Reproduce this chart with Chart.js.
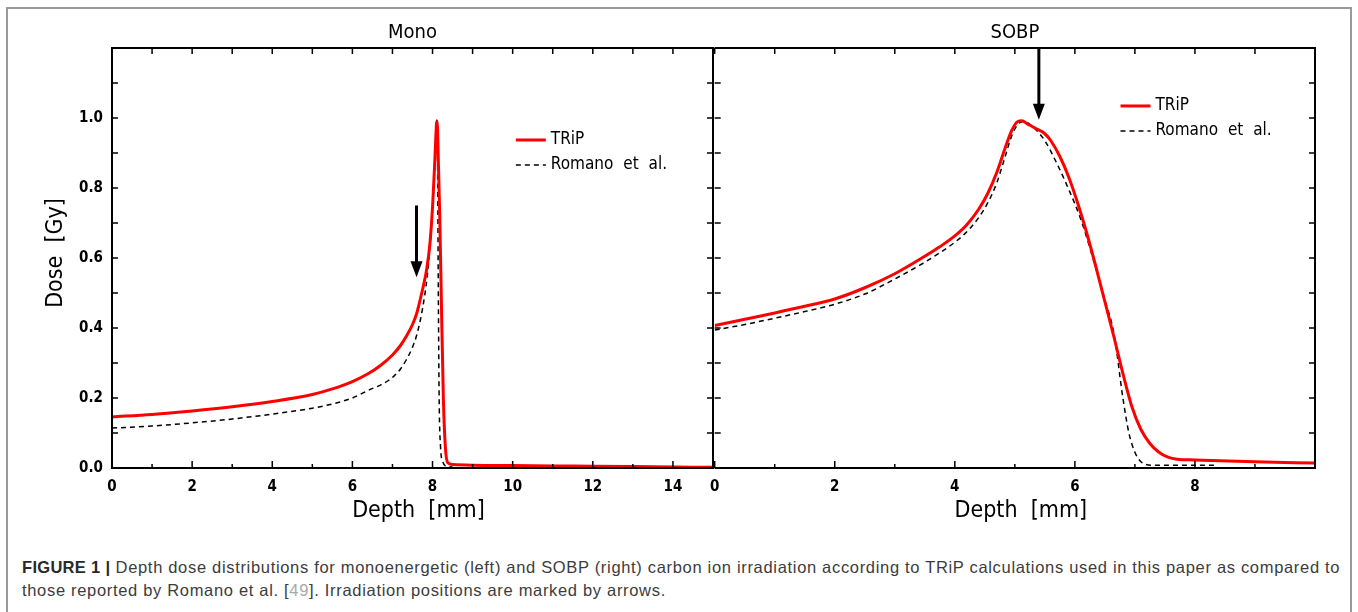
<!DOCTYPE html>
<html>
<head>
<meta charset="utf-8">
<script src="https://cdn.jsdelivr.net/npm/chart.js@4.4.1/dist/chart.umd.min.js"></script>
<style>
  html, body { margin: 0; padding: 0; background: #fff; }
  body { width: 1358px; height: 612px; position: relative; overflow: hidden; }
  #frame { position: absolute; left: 6px; top: 7px; width: 1346px; height: 640px; border: 2px solid #9a9a9a; box-sizing: border-box; }
  canvas { position: absolute; top: 0; }
  #mono { left: 0; }
  #sobp { left: 700px; }
  #caption { position: absolute; left: 22px; top: 556px; font-family: "Liberation Sans", Arial, sans-serif; font-size: 16.5px; letter-spacing: 0.68px; line-height: 23px; color: #3c3c3c; white-space: nowrap; }
  #caption b { color: #2a2a2a; letter-spacing: 0.3px; }
  #caption .ref { color: #a8a8a8; }
</style>
</head>
<body>
<div id="frame"></div>
<canvas id="mono" width="730" height="530"></canvas>
<canvas id="sobp" width="658" height="530"></canvas>
<div id="caption"><b>FIGURE 1 |</b> Depth dose distributions for monoenergetic (left) and SOBP (right) carbon ion irradiation according to TRiP calculations used in this paper as compared to<br>those reported by Romano et al. [<span class="ref">49</span>]. Irradiation positions are marked by arrows.</div>
<script>
// ——— data (depth in mm, dose in Gy) ———
const monoTripDepth = [0, 1, 2, 3, 4, 5, 5.5, 6, 6.4, 6.7, 7, 7.2, 7.35, 7.5, 7.6, 7.7, 7.78, 7.85, 7.93, 8.0, 8.05, 8.08, 8.1, 8.115, 8.14, 8.18, 8.22, 8.27, 8.32, 8.38, 8.5, 9, 10, 11, 12, 13, 14, 15];
const monoTripDose  = [0.146, 0.153, 0.163, 0.175, 0.19, 0.21, 0.226, 0.247, 0.27, 0.293, 0.323, 0.35, 0.377, 0.41, 0.44, 0.485, 0.525, 0.565, 0.635, 0.745, 0.86, 0.94, 0.985, 0.99, 0.90, 0.72, 0.48, 0.20, 0.06, 0.015, 0.01, 0.008, 0.007, 0.006, 0.005, 0.004, 0.003, 0.002];

const monoRomanoDepth = [0, 1, 2, 3, 4, 5, 5.5, 6, 6.4, 6.7, 6.9, 7.05, 7.2, 7.35, 7.5, 7.6, 7.7, 7.8, 7.87, 7.93, 7.98, 8.03, 8.07, 8.1, 8.115, 8.13, 8.145, 8.165, 8.2, 8.25, 8.35, 8.5];
const monoRomanoDose  = [0.114, 0.12, 0.129, 0.14, 0.154, 0.171, 0.183, 0.2, 0.222, 0.237, 0.25, 0.264, 0.283, 0.31, 0.345, 0.378, 0.425, 0.49, 0.55, 0.625, 0.705, 0.8, 0.9, 0.98, 1.0, 0.8, 0.5, 0.2, 0.06, 0.02, 0.005, 0.003];

const sobpTripDepth = [0, 0.5, 1, 1.5, 2, 2.5, 3, 3.5, 3.75, 4, 4.2, 4.4, 4.55, 4.7, 4.83, 4.95, 5.05, 5.12, 5.2, 5.35, 5.5, 5.6, 5.75, 5.9, 6.05, 6.2, 6.35, 6.5, 6.65, 6.8, 6.95, 7.1, 7.25, 7.4, 7.55, 7.7, 8, 9, 10];
const sobpTripDose  = [0.407, 0.425, 0.443, 0.462, 0.483, 0.515, 0.555, 0.605, 0.632, 0.663, 0.695, 0.74, 0.785, 0.845, 0.91, 0.965, 0.99, 0.992, 0.984, 0.97, 0.955, 0.935, 0.89, 0.83, 0.755, 0.67, 0.575, 0.475, 0.375, 0.27, 0.175, 0.11, 0.07, 0.045, 0.031, 0.025, 0.023, 0.018, 0.014];

const sobpRomanoDepth = [0, 0.5, 1, 1.5, 2, 2.5, 3, 3.5, 3.75, 4, 4.2, 4.4, 4.55, 4.7, 4.83, 4.95, 5.05, 5.15, 5.3, 5.5, 5.7, 5.9, 6.1, 6.3, 6.5, 6.65, 6.8, 6.9, 7.0, 7.1, 7.3, 8.35];
const sobpRomanoDose  = [0.394, 0.41, 0.428, 0.447, 0.468, 0.497, 0.54, 0.588, 0.615, 0.645, 0.675, 0.716, 0.758, 0.815, 0.885, 0.95, 0.982, 0.99, 0.975, 0.935, 0.87, 0.795, 0.71, 0.6, 0.48, 0.385, 0.2, 0.1, 0.045, 0.018, 0.008, 0.008];

// tick labels shown on the axes
const doseLabels = [0.0, 0.2, 0.4, 0.6, 0.8, 1.0];
const monoDepthLabels = [0, 2, 4, 6, 8, 10, 12, 14];
const sobpDepthLabels = [0, 2, 4, 6, 8];

// irradiation position arrows: depth, dose at tail, dose at tip
const monoArrow = [7.6, 0.75, 0.545];
const sobpArrow = [5.4, 1.2, 0.995];

const plotFont = '"DejaVu Sans Condensed", "Liberation Sans Narrow", "DejaVu Sans", sans-serif';

const pairs = (xs, ys) => xs.map((x, i) => ({ x, y: ys[i] }));

// frame, inward ticks, titles, legend and arrow
const decorations = {
  id: 'decorations',
  afterDraw(chart, args, o) {
    const { ctx, chartArea: a, scales: { x, y } } = chart;
    ctx.save();
    ctx.strokeStyle = '#000';
    ctx.lineWidth = 1.5;
    ctx.beginPath();
    x.ticks.forEach(t => {
      const px = x.getPixelForValue(t.value);
      const len = t.label ? 7 : 4;
      ctx.moveTo(px, a.bottom); ctx.lineTo(px, a.bottom - len);
      ctx.moveTo(px, a.top); ctx.lineTo(px, a.top + 6);
    });
    y.ticks.forEach(t => {
      const py = y.getPixelForValue(t.value);
      ctx.moveTo(a.left, py); ctx.lineTo(a.left + 6, py);
      ctx.moveTo(a.right, py); ctx.lineTo(a.right - 6, py);
    });
    ctx.stroke();
    // frame; the shared middle edge is drawn by the left panel only
    ctx.lineWidth = 2;
    ctx.beginPath();
    ctx.moveTo(a.left, a.top);
    ctx.lineTo(a.right, a.top);
    ctx.lineTo(a.right, a.bottom);
    ctx.lineTo(a.left, a.bottom);
    if (o.yTitle) ctx.closePath();
    ctx.stroke();

    // titles
    ctx.fillStyle = '#000';
    ctx.textAlign = 'center';
    ctx.textBaseline = 'middle';
    ctx.font = '20px ' + plotFont;
    ctx.fillText(o.title, (a.left + a.right) / 2, a.top - 15);
    ctx.font = '23px ' + plotFont;
    ctx.fillText('Depth  [mm]', (a.left + a.right) / 2 + 6, a.bottom + 43);
    if (o.yTitle) {
      ctx.save();
      ctx.translate(a.left - 56, (a.top + a.bottom) / 2 - 5);
      ctx.rotate(-Math.PI / 2);
      ctx.fillText('Dose  [Gy]', 0, 0);
      ctx.restore();
    }

    // legend
    const lx = a.left + (a.right - a.left) * o.legendX;
    const ly = a.top + (a.bottom - a.top) * o.legendY;
    ctx.font = '17px ' + plotFont;
    ctx.wordSpacing = '5px';
    ctx.textAlign = 'left';
    chart.data.datasets.forEach((ds, i) => {
      const yy = ly + i * 25;
      ctx.save();
      ctx.strokeStyle = ds.borderColor;
      ctx.lineWidth = ds.borderWidth;
      ctx.setLineDash(ds.borderDash || []);
      ctx.beginPath();
      ctx.moveTo(lx, yy); ctx.lineTo(lx + 30, yy);
      ctx.stroke();
      ctx.restore();
      ctx.fillText(ds.label, lx + 35, yy);
    });
    ctx.wordSpacing = '0px';

    // arrow
    const [ad, a0, a1] = o.arrow;
    const ax = x.getPixelForValue(ad);
    const ay0 = Math.max(y.getPixelForValue(a0), a.top);
    const ay1 = y.getPixelForValue(a1);
    ctx.lineWidth = 3;
    ctx.beginPath();
    ctx.moveTo(ax, ay0); ctx.lineTo(ax, ay1 - 12);
    ctx.stroke();
    ctx.beginPath();
    ctx.moveTo(ax - 6, ay1 - 16); ctx.lineTo(ax + 6, ay1 - 16); ctx.lineTo(ax, ay1);
    ctx.closePath();
    ctx.fill();
    ctx.restore();
  }
};

function makePanel(id, opts) {
  const labelled = v => opts.xLabels.some(l => Math.abs(l - v) < 1e-6);
  return new Chart(document.getElementById(id), {
    type: 'line',
    data: {
      datasets: [
        { label: 'TRiP', data: pairs(opts.tripDepth, opts.tripDose), borderColor: '#ff0000', borderWidth: 3 },
        { label: 'Romano et al.', data: pairs(opts.romDepth, opts.romDose), borderColor: '#000', borderWidth: 1.5, borderDash: [5, 4] }
      ]
    },
    options: {
      responsive: false,
      animation: false,
      elements: { point: { radius: 0 }, line: { cubicInterpolationMode: 'monotone' } },
      layout: { padding: { top: 48, right: opts.padRight, left: 0, bottom: 0 } },
      plugins: {
        legend: { display: false },
        tooltip: { enabled: false },
        decorations: { title: opts.title, yTitle: opts.yTitle, arrow: opts.arrow, legendX: opts.legendX, legendY: opts.legendY }
      },
      scales: {
        x: {
          type: 'linear', min: 0, max: opts.xMax,
          grid: { display: false, drawTicks: false },
          border: { display: false },
          afterFit: s => { s.height = 62; },
          ticks: {
            stepSize: 1, autoSkip: false, maxRotation: 0, padding: 10, color: '#000',
            font: { family: plotFont, size: 15, weight: 'bold' },
            callback: v => labelled(v) ? String(v) : ''
          }
        },
        y: {
          min: 0, max: 1.2,
          grid: { display: false, drawTicks: false },
          border: { display: false },
          afterFit: s => { s.width = opts.yWidth; },
          ticks: {
            stepSize: 0.1, autoSkip: false, padding: 9, color: '#000',
            font: { family: plotFont, size: 15, weight: 'bold' },
            callback: v => {
              if (!opts.yTitle) return '';
              const hit = doseLabels.find(l => Math.abs(l - v) < 1e-6);
              return hit === undefined ? '' : hit.toFixed(1);
            }
          }
        }
      }
    },
    plugins: [decorations]
  });
}

makePanel('mono', {
  tripDepth: monoTripDepth, tripDose: monoTripDose,
  romDepth: monoRomanoDepth, romDose: monoRomanoDose,
  xMax: 15, xLabels: monoDepthLabels, yWidth: 112, padRight: 17,
  title: 'Mono', yTitle: true, arrow: monoArrow, legendX: 0.672, legendY: 0.219
});
makePanel('sobp', {
  tripDepth: sobpTripDepth, tripDose: sobpTripDose,
  romDepth: sobpRomanoDepth, romDose: sobpRomanoDose,
  xMax: 10, xLabels: sobpDepthLabels, yWidth: 13, padRight: 43,
  title: 'SOBP', yTitle: false, arrow: sobpArrow, legendX: 0.676, legendY: 0.138
});
</script>
</body>
</html>
